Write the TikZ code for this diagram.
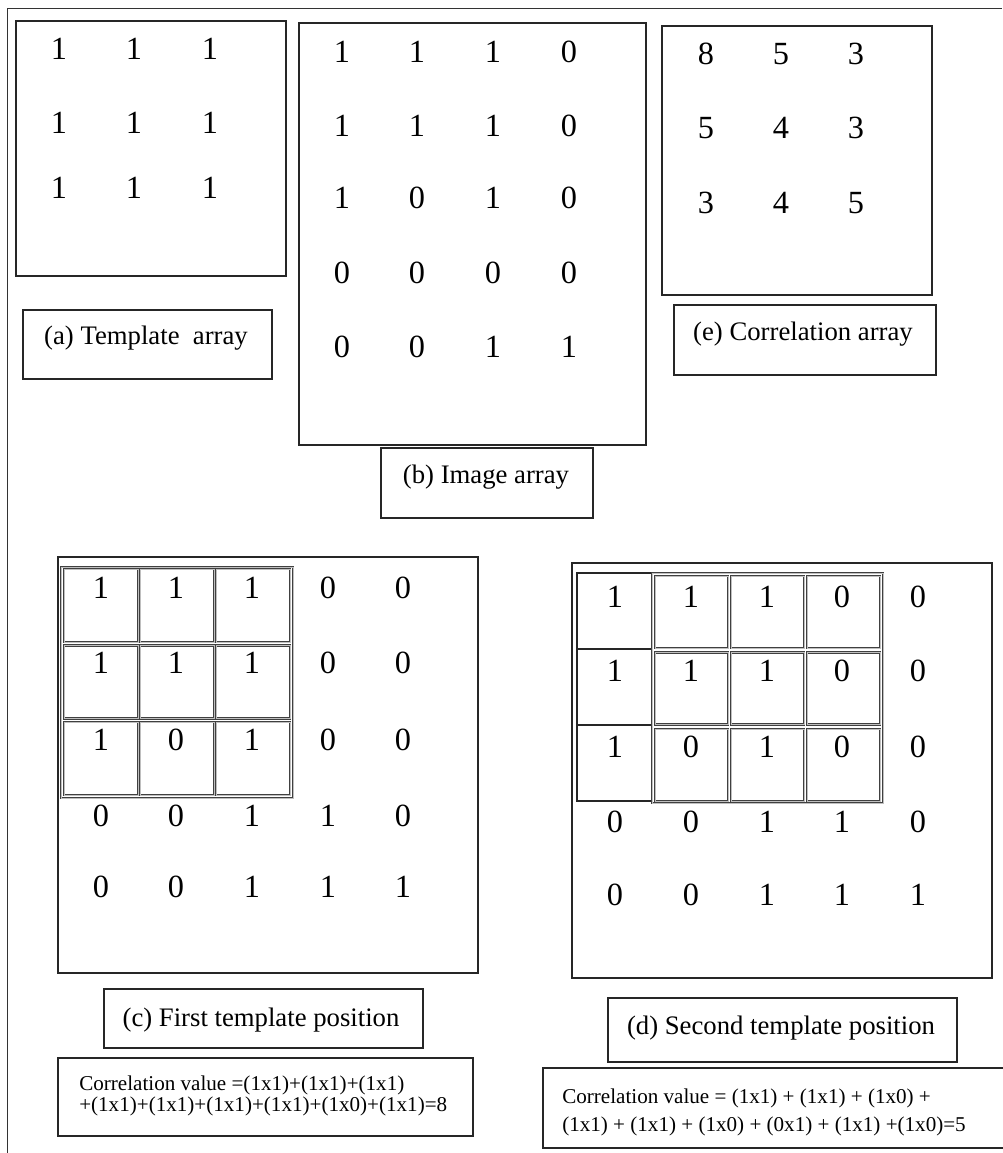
\documentclass[tikz,border=0pt]{standalone}
\usepackage{fontspec}
\setmainfont{Liberation Serif}
\usepackage{tikz}
\usetikzlibrary{fit}
\tikzset{
    frame_line/.style={draw=black!80, line width=0.7pt},
    arr_box/.style={draw=black!85, line width=0.9pt, inner sep=0pt},
    cap_box/.style={draw=black!85, line width=0.9pt, inner sep=0pt},
    cap_text/.style={font=\fontsize{19}{22}\selectfont, inner sep=0pt},
    num/.style={font=\fontsize{23}{26}\selectfont, inner sep=0pt},
    corr_text/.style={align=left, inner sep=0pt, anchor=west},
    win_cell/.style={draw=black!75, line width=0.5pt, double=gray!50, double distance=0.6pt, inner sep=0pt},
    plain_cell/.style={draw=black!85, line width=0.8pt, inner sep=0pt}
}

\begin{document}
\begin{tikzpicture}[x=0.025cm, y=-0.025cm]
\useasboundingbox (0,0) rectangle (1002,1153);
% outer frame, only its top and left edges are in view
\draw[frame_line] (7,1153) -- (7,8) -- (1002,8);

% (a) template array
\node[arr_box, fit={(16,21) (286,276)}] (tmpl) {};
\foreach \y in {49,123,188}
    \foreach \x in {59,134,210}
        \node[num] (tmpl-\x-\y) at (\x,\y) {1};
\node[cap_box, fit={(23,310) (272,379)}] (tmpl_cap) {};
\node[cap_text] (tmpl_txt) at (146,338) {(a) Template~ array};

% (b) image array
\node[arr_box, fit={(299,23) (646,445)}] (img) {};
\foreach \x/\v in {342/1,417/1,493/1,569/0} \node[num] (img-a\x) at (\x,52) {\v};
\foreach \x/\v in {342/1,417/1,493/1,569/0} \node[num] (img-b\x) at (\x,126) {\v};
\foreach \x/\v in {342/1,417/0,493/1,569/0} \node[num] (img-c\x) at (\x,198) {\v};
\foreach \x/\v in {342/0,417/0,493/0,569/0} \node[num] (img-d\x) at (\x,273) {\v};
\foreach \x/\v in {342/0,417/0,493/1,569/1} \node[num] (img-e\x) at (\x,347) {\v};
\node[cap_box, fit={(381,448) (593,518)}] (img_cap) {};
\node[cap_text] (img_txt) at (486,477) {(b) Image array};

% (e) correlation array
\node[arr_box, fit={(662,26) (932,295)}] (corr) {};
\foreach \x/\v in {706/8,781/5,856/3} \node[num] (corr-a\x) at (\x,54) {\v};
\foreach \x/\v in {706/5,781/4,856/3} \node[num] (corr-b\x) at (\x,128) {\v};
\foreach \x/\v in {706/3,781/4,856/5} \node[num] (corr-c\x) at (\x,203) {\v};
\node[cap_box, fit={(674,305) (936,375)}] (corr_cap) {};
\node[cap_text] (corr_txt) at (803,334) {(e) Correlation array};

% (c) first template position
\node[arr_box, fit={(58,557) (478,973)}] (first) {};
\node[win_cell, fit={(61,567) (293,798)}] (first_win) {};
\foreach \i in {0,1,2}
    \foreach \j in {0,1,2}
        \node[win_cell, fit={({64+76*\i},{569+76.5*\j}) ({138+76*\i},{642+76.5*\j})}] (first-\i-\j) {};
\foreach \x/\v in {101/1,176/1,252/1,328/0,403/0} \node[num] (first-a\x) at (\x,588) {\v};
\foreach \x/\v in {101/1,176/1,252/1,328/0,403/0} \node[num] (first-b\x) at (\x,663) {\v};
\foreach \x/\v in {101/1,176/0,252/1,328/0,403/0} \node[num] (first-c\x) at (\x,740) {\v};
\foreach \x/\v in {101/0,176/0,252/1,328/1,403/0} \node[num] (first-d\x) at (\x,816) {\v};
\foreach \x/\v in {101/0,176/0,252/1,328/1,403/1} \node[num] (first-e\x) at (\x,887) {\v};
\node[cap_box, fit={(104,989) (423,1048)}] (first_cap) {};
\node[cap_text] (first_txt) at (261,1020) {(c) First template position};
\node[cap_box, fit={(58,1058) (473,1136)}] (first_val) {};
\node[corr_text, font=\fontsize{15}{15.3}\selectfont] (first_sum) at (79,1096)
    {Correlation value =(1x1)+(1x1)+(1x1)\\+(1x1)+(1x1)+(1x1)+(1x1)+(1x0)+(1x1)=8};

% (d) second template position
\node[arr_box, fit={(572,563) (992,978)}] (second) {};
\foreach \j in {0,1,2}
    \node[plain_cell, fit={(577,{573+76*\j}) (652,{649+76*\j})}] (second-l\j) {};
\node[win_cell, fit={(652,573) (883,803)}] (second_win) {};
\foreach \i in {0,1,2}
    \foreach \j in {0,1,2}
        \node[win_cell, fit={({655+76*\i},{576+76.5*\j}) ({728+76*\i},{648+76.5*\j})}] (second-\i-\j) {};
\foreach \x/\v in {615/1,691/1,767/1,842/0,918/0} \node[num] (second-a\x) at (\x,597) {\v};
\foreach \x/\v in {615/1,691/1,767/1,842/0,918/0} \node[num] (second-b\x) at (\x,671) {\v};
\foreach \x/\v in {615/1,691/0,767/1,842/0,918/0} \node[num] (second-c\x) at (\x,747) {\v};
\foreach \x/\v in {615/0,691/0,767/1,842/1,918/0} \node[num] (second-d\x) at (\x,822) {\v};
\foreach \x/\v in {615/0,691/0,767/1,842/1,918/1} \node[num] (second-e\x) at (\x,895) {\v};
\node[cap_box, fit={(608,998) (957,1062)}] (second_cap) {};
\node[cap_text] (second_txt) at (781,1028) {(d) Second template position};
\node[cap_box, fit={(543,1068) (1012,1148)}] (second_val) {};
\node[corr_text, font=\fontsize{15}{19.9}\selectfont] (second_sum) at (562,1112)
    {Correlation value = (1x1) + (1x1) + (1x0) +\\(1x1) + (1x1) + (1x0) + (0x1) + (1x1) +(1x0)=5};
\end{tikzpicture}
\end{document}
